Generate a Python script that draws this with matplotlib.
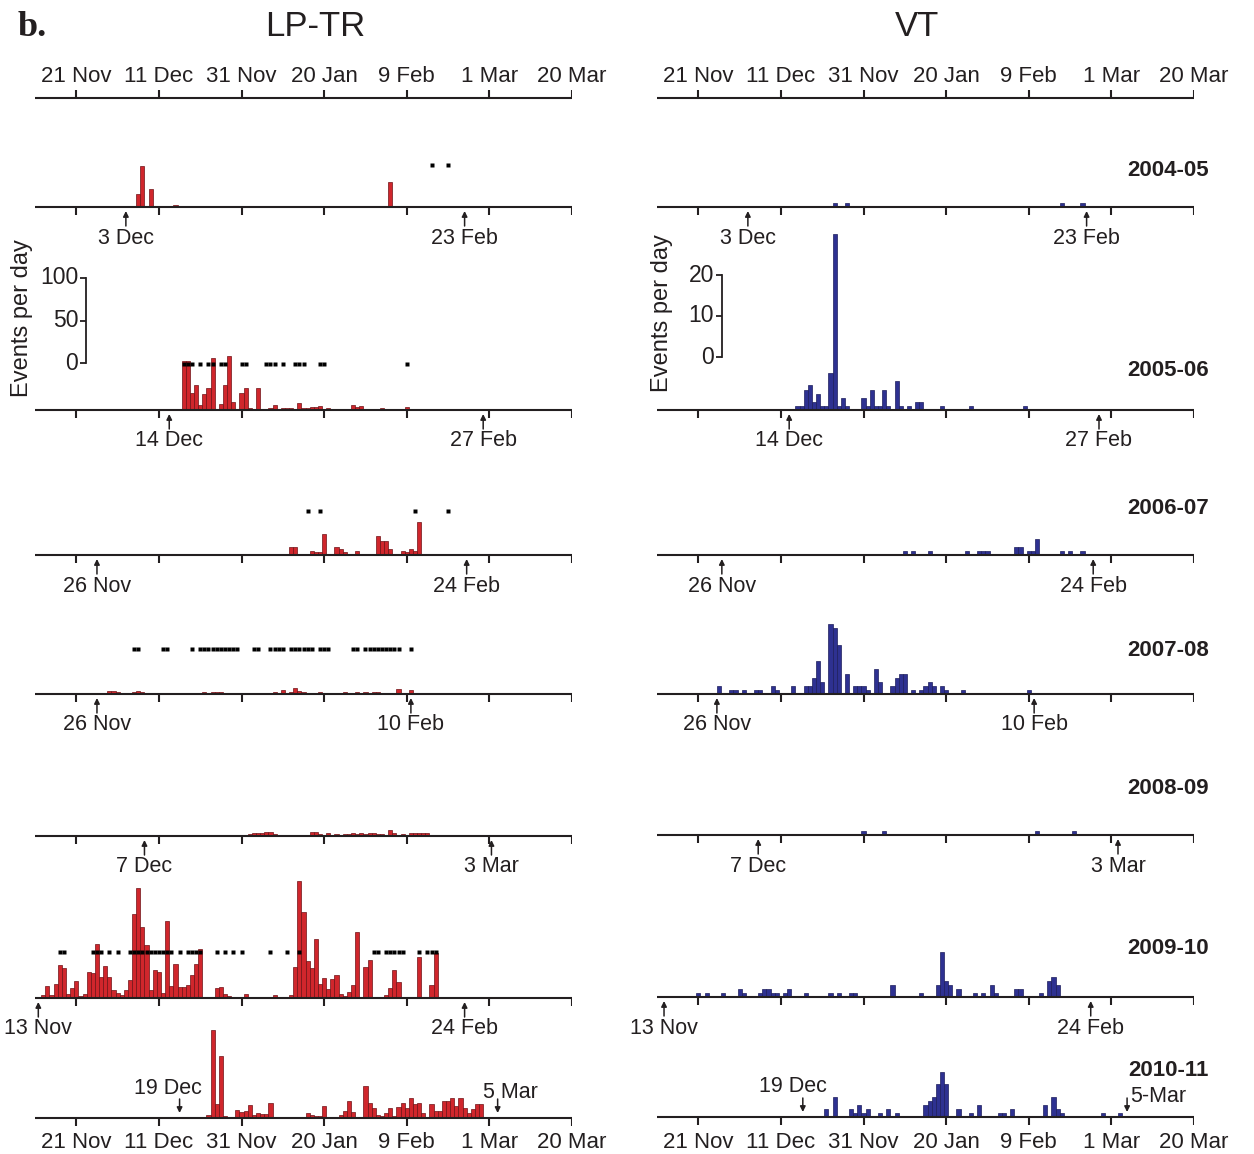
import numpy as np
import matplotlib.pyplot as plt

plt.rcParams['font.family'] = ['Liberation Sans', 'DejaVu Sans']

W, H = 1254, 1154
ink = '#231f20'
lp_red = '#d0262c'
lp_edge = '#6e1216'
vt_blue = '#2e3191'
vt_edge = '#1c1d5c'

# day 0 = 11 Nov; ticks every 20 days
tick_days = [10, 30, 50, 70, 90, 110, 130]
tick_labels = ['21 Nov', '11 Dec', '31 Nov', '20 Jan', '9 Feb', '1 Mar', '20 Mar']
seasons = ['2004-05', '2005-06', '2006-07', '2007-08', '2008-09', '2009-10', '2010-11']

# ---- LP-TR events per day ----
lp_0405_days = [25, 26, 28, 32, 34, 35, 79, 86]
lp_0405_n = [15, 48, 21, 1, 2, 1, 1, 30]

lp_0506_start = 34
lp_0506_n = [1, 1, 58, 58, 20, 29, 6, 19, 26, 61, 1, 7, 29, 64, 10, 1, 20, 26, 2, 1,
             26, 1, 1, 2, 6, 1, 2, 2, 2, 1, 8, 2, 2, 3, 3, 5, 1, 2, 1, 1,
             0, 0, 0, 6, 3, 5, 1, 1, 1, 1, 2, 0, 0, 0, 0, 0, 3]

lp_0607_start = 62
lp_0607_n = [10, 9, 1, 1, 0, 5, 4, 3, 25, 1, 1, 9, 7, 3, 1, 0, 5, 1, 1, 0,
             0, 22, 16, 16, 7, 1, 1, 5, 4, 7, 5, 39, 0, 0, 0, 1, 1]

lp_0708_start = 18
lp_0708_n = [3, 3, 2, 0, 0, 0, 2, 3, 2, 0, 0, 0, 1, 0, 0, 0, 0, 1, 0, 0,
             0, 0, 1, 2, 1, 2, 2, 2, 1, 0, 0, 0, 0, 0, 0, 0, 1, 0, 0, 1,
             2, 1, 5, 1, 2, 7, 3, 2, 0, 0, 0, 2, 0, 0, 0, 0, 1, 2, 1, 1,
             2, 0, 2, 1, 2, 2, 1, 0, 0, 0, 6, 1, 0, 5]

lp_0809_start = 51
lp_0809_n = [1, 2, 3, 3, 4, 5, 5, 2, 1, 1, 1, 0, 0, 0, 0, 1, 5, 5, 2, 1,
             3, 1, 2, 1, 2, 2, 3, 2, 3, 2, 3, 4, 2, 2, 1, 7, 3, 1, 2, 1,
             4, 3, 4, 3, 4, 1, 1, 1, 1]

lp_0910_start = 2
lp_0910_n = [4, 14, 3, 17, 39, 35, 5, 12, 20, 2, 5, 31, 29, 63, 25, 38, 25, 9, 6, 4,
             10, 21, 99, 130, 84, 62, 10, 33, 31, 6, 91, 14, 40, 13, 13, 15, 27, 40, 58, 1,
             1, 1, 12, 13, 5, 2, 1, 0, 1, 5, 1, 1, 0, 1, 1, 1, 3, 1, 0, 1,
             3, 36, 138, 101, 44, 35, 70, 17, 23, 11, 22, 27, 5, 2, 7, 15, 78, 1, 36, 45,
             1, 1, 1, 3, 12, 33, 19, 1, 0, 0, 0, 48, 0, 1, 15, 53]

lp_1011_start = 41
lp_1011_n = [1, 3, 103, 16, 73, 2, 1, 1, 10, 7, 8, 15, 4, 6, 5, 5, 18, 1, 0, 1,
             1, 0, 0, 1, 0, 6, 3, 2, 2, 14, 1, 1, 1, 4, 8, 20, 7, 1, 1, 38,
             18, 12, 4, 2, 6, 12, 2, 13, 18, 12, 23, 17, 18, 6, 1, 17, 8, 8, 20, 20,
             23, 14, 23, 12, 6, 11, 16, 16]

# days marked with a dot above the LP-TR histograms
lp_0405_dots = [96, 100]
lp_0506_dots = [36, 37, 38, 40, 42, 43, 45, 46, 50, 51, 56, 57, 58, 60, 63, 64, 65, 69, 70, 90]
lp_0607_dots = [66, 69, 92, 100]
lp_0708_dots = [24, 25, 31, 32, 38, 40, 41, 42, 43, 44, 45, 46, 47, 48, 49, 53, 54,
                57, 58, 59, 60, 62, 63, 64, 65, 66, 67, 69, 70, 71, 77, 78,
                80, 81, 82, 83, 84, 85, 86, 87, 88, 91]
lp_0809_dots = []
lp_0910_dots = [6, 7, 14, 15, 16, 18, 20, 23, 24, 25, 26, 27, 28, 29, 30, 31, 32, 33,
                35, 37, 38, 39, 40, 44, 46, 48, 50, 57, 61, 64,
                82, 83, 85, 86, 87, 88, 89, 93, 95, 96, 97]
lp_1011_dots = []

# ---- VT events per day ----
vt_0405_days = [43, 46, 98, 103]
vt_0405_n = [1, 1, 1, 1]

vt_0506_start = 34
vt_0506_n = [1, 1, 5, 6, 2, 4, 1, 1, 9, 43, 1, 3, 1, 0, 0, 0, 3, 1, 5, 1,
             1, 5, 1, 0, 7, 1, 0, 1, 0, 2, 2, 0, 0, 0, 0, 1, 0, 0, 0, 0,
             0, 0, 1, 0, 0, 0, 0, 0, 0, 0, 0, 0, 0, 0, 0, 1]

vt_0607_days = [60, 62, 66, 75, 78, 79, 80, 87, 88, 90, 91, 92, 98, 100, 103]
vt_0607_n = [1, 1, 1, 1, 1, 1, 1, 2, 2, 1, 1, 4, 1, 1, 1]

vt_0708_start = 15
vt_0708_n = [2, 0, 0, 1, 1, 0, 1, 0, 0, 1, 1, 0, 0, 2, 1, 0, 0, 0, 2, 0,
             0, 2, 2, 4, 8, 3, 0, 17, 16, 12, 0, 5, 0, 2, 2, 2, 1, 0, 6, 3,
             0, 0, 2, 4, 5, 5, 0, 1, 0, 1, 2, 3, 2, 0, 2, 1, 0, 0, 0, 1,
             0, 0, 0, 0, 0, 0, 0, 0, 0, 0, 0, 0, 0, 0, 0, 1]

vt_0809_days = [50, 55, 92, 101]
vt_0809_n = [1, 1, 1, 1]

vt_0910_days = [10, 12, 16, 20, 21, 25, 26, 27, 28, 29, 31, 32, 36, 42, 44, 47, 48,
                57, 64, 68, 69, 70, 71, 73, 77, 79, 81, 82, 87, 88, 93, 95, 96, 97]
vt_0910_n = [1, 1, 1, 2, 1, 1, 2, 2, 1, 1, 1, 2, 1, 1, 1, 1, 1,
             3, 1, 3, 11, 4, 3, 2, 1, 1, 3, 1, 2, 2, 1, 4, 5, 3]

vt_1011_days = [41, 43, 47, 48, 49, 50, 51, 54, 56, 58, 65, 66, 67, 68, 69, 70,
                73, 76, 78, 83, 84, 86, 94, 96, 97, 98, 108, 112]
vt_1011_n = [2, 5, 2, 1, 3, 1, 2, 1, 2, 1, 3, 4, 5, 8, 11, 8,
             2, 1, 3, 1, 1, 2, 3, 5, 2, 1, 1, 1]

# arrows marking the season window (day, label)
lp_arrows = [[(22, '3 Dec'), (104, '23 Feb')],
             [(32.5, '14 Dec'), (108.5, '27 Feb')],
             [(15, '26 Nov'), (104.5, '24 Feb')],
             [(15, '26 Nov'), (91, '10 Feb')],
             [(26.5, '7 Dec'), (110.5, '3 Mar')],
             [(0.8, '13 Nov'), (104, '24 Feb')],
             [(35, '19 Dec'), (112, '5 Mar')]]
vt_arrows = [[(22, '3 Dec'), (104, '23 Feb')],
             [(32, '14 Dec'), (107, '27 Feb')],
             [(15.7, '26 Nov'), (105.6, '24 Feb')],
             [(14.5, '26 Nov'), (91.3, '10 Feb')],
             [(24.5, '7 Dec'), (111.6, '3 Mar')],
             [(1.7, '13 Nov'), (105, '24 Feb')],
             [(35.3, '19 Dec'), (113.8, '5-Mar')]]

lp_scale_ticks = [0, 50, 100]
vt_scale_ticks = [0, 10, 20]


def span(start, n):
    return np.arange(start, start + len(n))


lp_days = [lp_0405_days, span(lp_0506_start, lp_0506_n), span(lp_0607_start, lp_0607_n),
           span(lp_0708_start, lp_0708_n), span(lp_0809_start, lp_0809_n),
           span(lp_0910_start, lp_0910_n), span(lp_1011_start, lp_1011_n)]
lp_counts = [lp_0405_n, lp_0506_n, lp_0607_n, lp_0708_n, lp_0809_n, lp_0910_n, lp_1011_n]
lp_dots = [lp_0405_dots, lp_0506_dots, lp_0607_dots, lp_0708_dots,
           lp_0809_dots, lp_0910_dots, lp_1011_dots]
vt_days = [vt_0405_days, span(vt_0506_start, vt_0506_n), vt_0607_days,
           span(vt_0708_start, vt_0708_n), vt_0809_days, vt_0910_days, vt_1011_days]
vt_counts = [vt_0405_n, vt_0506_n, vt_0607_n, vt_0708_n, vt_0809_n, vt_0910_n, vt_1011_n]

# layout, in pixels from the top of the figure
left_lp, left_vt, axis_w = 35, 657, 537
top_axis = 98
lp_base = [207, 410, 555, 694, 836, 998, 1118]
vt_base = [207, 410, 555, 694, 835, 997, 1117]
season_y = [170, 370, 508, 650, 788, 948, 1070]
dot_off = [42, 46, 44, 45, 45, 46, 45]
lp_px = 0.85   # pixels per event
vt_px = 4.1

fs_tick = 16
fs_arrow = 15.5

fig = plt.figure(figsize=(W / 100, H / 100), dpi=100)


def make_axes(x0):
    ax = fig.add_axes([x0 / W, 0, axis_w / W, 1])
    ax.set_xlim(0, 130)
    ax.set_ylim(H, 0)
    ax.axis('off')
    return ax


def draw_column(ax, bases, days, counts, px, color, edge, dots, arrows, down_labels):
    # top date axis
    ax.plot([0, 130], [top_axis, top_axis], color=ink, lw=1.5, solid_capstyle='butt')
    ax.vlines(tick_days, top_axis - 8, top_axis, color=ink, lw=1.5)
    for d, lab in zip(tick_days, tick_labels):
        ax.text(d, 76, lab, ha='center', va='center', fontsize=fs_tick, color=ink)

    for i, base in enumerate(bases):
        h = np.array(counts[i], dtype=float) * px
        ax.bar(days[i], h, bottom=base - h, width=1, color=color, edgecolor=edge,
               linewidth=0.5, zorder=2)
        ax.plot([0, 130], [base, base], color=ink, lw=1.5, zorder=3,
                solid_capstyle='butt')
        ax.vlines(tick_days, base, base + 8, color=ink, lw=1.5, zorder=3)
        if dots is not None and len(dots[i]) > 0:
            ax.plot(dots[i], [base - dot_off[i]] * len(dots[i]), 's', ms=2.6,
                    color='black', mec='none', zorder=4)

        if i < len(bases) - 1:
            for d, lab in arrows[i]:
                ax.annotate('', xy=(d, base + 4), xytext=(d, base + 19),
                            arrowprops=dict(arrowstyle='-|>', color=ink, lw=1.1,
                                            mutation_scale=8, shrinkA=0, shrinkB=0))
                ax.text(d, base + 31, lab, ha='center', va='center',
                        fontsize=fs_arrow, color=ink)
        else:
            for (d, lab), (dx, dy, ha) in zip(arrows[i], down_labels):
                ax.annotate('', xy=(d, base - 5), xytext=(d, base - 19),
                            arrowprops=dict(arrowstyle='-|>', color=ink, lw=1.1,
                                            mutation_scale=8, shrinkA=0, shrinkB=0))
                ax.text(d + dx, base - dy, lab, ha=ha, va='center',
                        fontsize=fs_arrow, color=ink)
            for d, lab in zip(tick_days, tick_labels):
                ax.text(d, base + 25, lab, ha='center', va='center',
                        fontsize=fs_tick, color=ink)


axL = make_axes(left_lp)
axR = make_axes(left_vt)

draw_column(axL, lp_base, lp_days, lp_counts, lp_px, lp_red, lp_edge, lp_dots,
            lp_arrows, [(-2.7, 30, 'center'), (-3.6, 25, 'left')])
draw_column(axR, vt_base, vt_days, vt_counts, vt_px, vt_blue, vt_edge, None,
            vt_arrows, [(-2.4, 31, 'center'), (0.8, 20, 'left')])

# scale bars
for ax, xd, zero_y, px, vals in [(axL, 12.35, 363, lp_px, lp_scale_ticks),
                                 (axR, 15.74, 357, vt_px, vt_scale_ticks)]:
    ys = [zero_y - v * px for v in vals]
    ax.plot([xd, xd], [min(ys), max(ys)], color=ink, lw=1.3)
    ax.hlines(ys, xd - 1.4, xd, color=ink, lw=1.3)
    for v, y in zip(vals, ys):
        ax.text(xd - 1.9, y, str(v), ha='right', va='center', fontsize=16.5, color=ink)

fig.text(22 / W, 1 - 318 / H, 'Events per day', rotation=90, ha='center', va='center',
         fontsize=17, color=ink)
fig.text(662 / W, 1 - 313 / H, 'Events per day', rotation=90, ha='center', va='center',
         fontsize=17, color=ink)

for s, y in zip(seasons, season_y):
    fig.text(1209 / W, 1 - y / H, s, ha='right', va='center', fontsize=16,
             fontweight='bold', color=ink)

fig.text(18 / W, 1 - 28 / H, 'b.', ha='left', va='center', fontsize=26,
         fontweight='bold', family='Liberation Serif', color=ink)
fig.text(315 / W, 1 - 27 / H, 'LP-TR', ha='center', va='center', fontsize=25, color=ink)
fig.text(917 / W, 1 - 27 / H, 'VT', ha='center', va='center', fontsize=25, color=ink)

fig.savefig('out.png', dpi=100)
